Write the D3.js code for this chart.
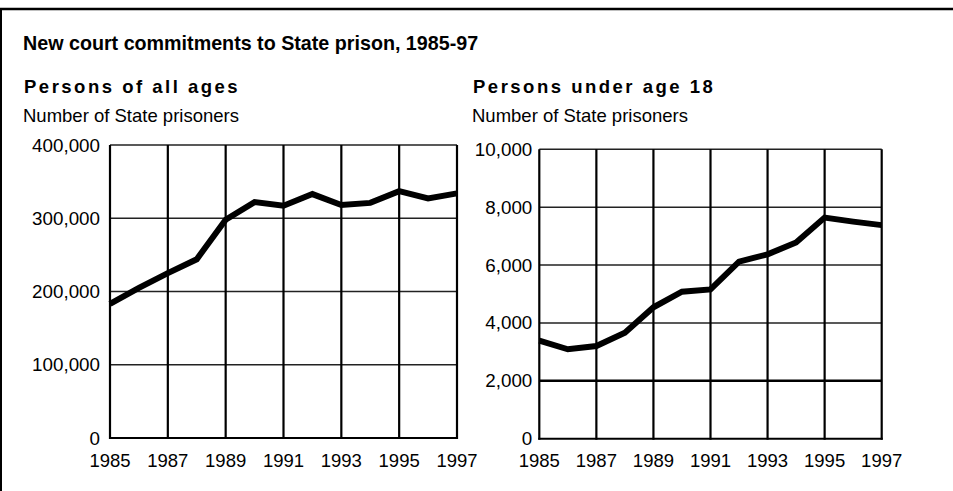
<!DOCTYPE html>
<html>
<head>
<meta charset="utf-8">
<script src="https://cdn.jsdelivr.net/npm/d3@7"></script>
<style>
  html, body { margin: 0; padding: 0; background: #fff; }
  svg { display: block; }
  text { font-family: "Liberation Sans", Arial, Helvetica, sans-serif; fill: #000; }
</style>
</head>
<body>
<svg id="chart" width="953" height="491"></svg>
<script>
// ---- Data ----
const years = [1985, 1986, 1987, 1988, 1989, 1990, 1991, 1992, 1993, 1994, 1995, 1996, 1997];
const allAges = [183000, 205000, 225000, 244000, 298000, 322000, 317000, 333000, 318000, 321000, 337000, 327000, 334000];
const under18 = [3390, 3090, 3200, 3660, 4540, 5080, 5160, 6120, 6370, 6780, 7640, 7500, 7380];
const xTickYears = [1985, 1987, 1989, 1991, 1993, 1995, 1997];
const leftYTicks = [0, 100000, 200000, 300000, 400000];
const rightYTicks = [0, 2000, 4000, 6000, 8000, 10000];
const mainTitle = "New court commitments to State prison, 1985-97";
const leftTitle = "Persons of all ages";
const rightTitle = "Persons under age 18";
const unitLabel = "Number of State prisoners";

const svg = d3.select("#chart");
const fmt = d3.format(",");

// Frame (top and left rules)
svg.append("line").attr("x1", 0).attr("x2", 953).attr("y1", 9).attr("y2", 9)
  .attr("stroke", "#000").attr("stroke-width", 2.5);
svg.append("line").attr("x1", 1).attr("x2", 1).attr("y1", 8).attr("y2", 491)
  .attr("stroke", "#000").attr("stroke-width", 2);

// Main title
svg.append("text").attr("x", 23).attr("y", 50)
  .attr("font-size", 19.7).attr("font-weight", "bold").text(mainTitle);

function panel(cfg) {
  const g = svg.append("g");
  g.append("text").attr("x", cfg.tx).attr("y", 93)
    .attr("font-size", 18.5).attr("font-weight", "bold")
    .attr("letter-spacing", cfg.ls).text(cfg.title);
  g.append("text").attr("x", cfg.tx - 1).attr("y", 122)
    .attr("font-size", 18.5).text(unitLabel);

  const x = d3.scaleLinear().domain([1985, 1997]).range([cfg.x0, cfg.x1]);
  const y = d3.scaleLinear().domain([0, cfg.yMax]).range([cfg.yb, cfg.yt]);

  // horizontal grid
  g.append("g").selectAll("line").data(cfg.yTicks.filter(d => d > 0)).join("line")
    .attr("x1", cfg.x0).attr("x2", cfg.x1)
    .attr("y1", d => y(d)).attr("y2", d => y(d))
    .attr("stroke", d => (cfg.thick && d === cfg.thick) ? "#000" : "#222")
    .attr("stroke-width", d => (cfg.thick && d === cfg.thick) ? 2.6 : 1.4);

  // vertical grid
  g.append("g").selectAll("line").data(xTickYears).join("line")
    .attr("x1", d => x(d)).attr("x2", d => x(d))
    .attr("y1", cfg.yt).attr("y2", cfg.yb + 1)
    .attr("stroke", "#000").attr("stroke-width", 2.2);

  // baseline
  g.append("line").attr("x1", cfg.x0 - 1).attr("x2", cfg.x1 + 1)
    .attr("y1", y(0)).attr("y2", y(0)).attr("stroke", "#000").attr("stroke-width", 2);

  // y labels
  g.append("g").selectAll("text").data(cfg.yTicks).join("text")
    .attr("x", cfg.x0 - cfg.lg).attr("y", d => y(d) + 6.5)
    .attr("text-anchor", "end").attr("font-size", 18.8)
    .text(d => fmt(d));

  // x labels
  g.append("g").selectAll("text").data(xTickYears).join("text")
    .attr("x", d => x(d)).attr("y", 466.5)
    .attr("text-anchor", "middle").attr("font-size", 18.5)
    .text(d => d);

  // data line
  const line = d3.line().x((d, i) => x(years[i])).y(d => y(d));
  g.append("path").datum(cfg.values).attr("d", line)
    .attr("fill", "none").attr("stroke", "#000").attr("stroke-width", 6)
    .attr("stroke-linejoin", "miter");
}

panel({ title: leftTitle, tx: 24, ls: 2.5, x0: 110, x1: 457, yt: 145, yb: 438,
  yMax: 400000, yTicks: leftYTicks, values: allAges, lg: 10 });
panel({ title: rightTitle, tx: 473, ls: 2.5, x0: 539.3, x1: 881.7, yt: 149.3, yb: 438.7,
  yMax: 10000, yTicks: rightYTicks, values: under18, lg: 7, thick: 2000 });
</script>
</body>
</html>
